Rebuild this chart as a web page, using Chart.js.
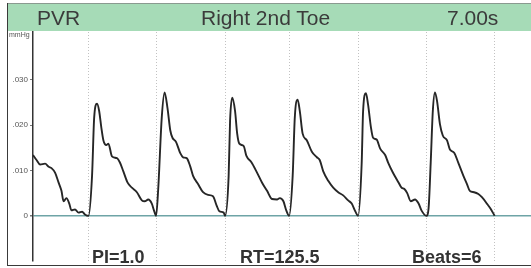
<!DOCTYPE html>
<html>
<head>
<meta charset="utf-8">
<script src="https://cdn.jsdelivr.net/npm/chart.js@4/dist/chart.umd.min.js"></script>
<style>
  html, body { margin: 0; padding: 0; background: #fff; }
  #wrap { position: relative; width: 531px; height: 268px; overflow: hidden; background: #fff; font-family: "Liberation Sans", Arial, sans-serif; }
  #c { position: absolute; left: 0; top: 0; }
  #frame { position: absolute; left: 7px; top: 3px; width: 524px; height: 263px; border-left: 1.5px solid #3a3a3a; border-bottom: 1.5px solid #3a3a3a; box-sizing: border-box; pointer-events: none; }
  #header { position: absolute; left: 8px; top: 3px; width: 523px; height: 28px; background: #a6dbb7; border-top: 1px solid #8a9a90; box-sizing: border-box; }
  .h { position: absolute; top: 7px; font-size: 21px; line-height: 21px; color: #3b3b3b; white-space: nowrap; }
  .b { position: absolute; top: 247.5px; font-size: 18px; line-height: 18px; font-weight: bold; color: #333; white-space: nowrap; }
  #unit { position: absolute; left: 9px; top: 31px; font-size: 7px; line-height: 8px; color: #555; }
</style>
</head>
<body>
<div id="wrap">
  <canvas id="c" width="531" height="268"></canvas>
  <div id="header"></div>
  <div id="frame"></div>
  <div class="h" id="t1" style="left:37px">PVR</div>
  <div class="h" id="t2" style="left:201px">Right 2nd Toe</div>
  <div class="h" id="t3" style="left:447px">7.00s</div>
  <div id="unit">mmHg</div>
  <div class="b" style="left:92px">PI=1.0</div>
  <div class="b" style="left:240px">RT=125.5</div>
  <div class="b" style="left:412px">Beats=6</div>
</div>
<script>
// Time (s) of each traced sample
const timeSec = [
  0.00,0.05,0.10,0.17,0.22,0.26,0.31,0.36,0.40,0.43,0.47,0.51,0.54,0.59,0.64,0.69,0.73,
  0.78,0.83,0.86,0.90,0.93,0.96,0.99,1.03,1.06,1.11,1.18,1.22,1.27,1.33,1.39,1.46,1.53,1.57,1.62,1.67,1.70,
  1.73,1.76,1.81,1.85,1.89,1.93,1.96,2.01,2.07,2.11,2.16,2.21,2.25,2.32,2.39,2.46,2.53,2.58,2.62,2.68,
  2.70,2.75,2.77,2.80,2.84,2.87,2.90,2.96,3.00,3.07,3.14,3.22,3.29,3.36,3.43,3.47,3.52,3.56,
  3.60,3.65,3.68,3.72,3.75,3.79,3.85,3.92,3.99,4.03,4.08,4.15,4.22,4.29,4.36,4.43,4.48,4.53,
  4.57,4.62,4.64,4.68,4.71,4.75,4.78,4.83,4.88,4.95,4.99,5.06,5.14,5.18,5.22,5.26,5.31,5.37,5.42,5.46,
  5.53,5.56,5.59,5.62,5.65,5.68,5.72,5.76,5.82,5.86,5.92,5.98,6.05,6.10,6.14,6.20,6.26,6.31,6.38,6.43,6.49
];
// Pulse volume (mmHg) at each sample
const pressure = [
  0.0134,0.0123,0.0113,0.0115,0.0108,0.0105,0.0095,0.0073,0.0055,0.0032,0.0039,0.0027,0.0012,0.0014,0.0007,0.0009,0.0003,
  0.0000,0.0088,0.0217,0.0247,0.0231,0.0195,0.0166,0.0156,0.0159,0.0131,0.0127,0.0118,0.0098,0.0073,0.0062,0.0052,0.0034,0.0032,0.0036,0.0027,0.0012,
  0.0000,0.0059,0.0217,0.0272,0.0238,0.0188,0.0172,0.0163,0.0138,0.0129,0.0127,0.0109,0.0088,0.0070,0.0052,0.0046,0.0043,0.0023,0.0010,0.0007,
  0.0000,0.0088,0.0209,0.0260,0.0231,0.0181,0.0159,0.0154,0.0132,0.0118,0.0098,0.0073,0.0055,0.0037,0.0036,0.0039,0.0032,0.0012,
  0.0000,0.0088,0.0217,0.0256,0.0231,0.0181,0.0166,0.0141,0.0129,0.0123,0.0098,0.0077,0.0062,0.0052,0.0045,0.0034,0.0027,0.0010,
  0.0000,0.0116,0.0231,0.0270,0.0245,0.0195,0.0172,0.0168,0.0148,0.0134,0.0118,0.0095,0.0073,0.0062,0.0059,0.0050,0.0032,0.0036,0.0027,0.0012,
  0.0000,0.0016,0.0116,0.0231,0.0272,0.0252,0.0202,0.0177,0.0166,0.0146,0.0139,0.0116,0.0088,0.0070,0.0055,0.0052,0.0048,0.0041,0.0027,0.0016,0.0000
];
// Beat onset markers (s) – vertical guide lines
const beatOnsets = [0.78, 1.73, 2.70, 3.60, 4.57, 5.53, 6.49];
// Y-axis tick values (mmHg)
const yTickValues = [0, 0.010, 0.020, 0.030];
const sweepSeconds = 7.00;

const points = timeSec.map((t, i) => ({ x: t, y: pressure[i] }));
const baselineTeal = '#6ea4a6';

new Chart(document.getElementById('c'), {
  type: 'line',
  data: {
    datasets: [{
      data: points,
      borderColor: '#262626',
      borderWidth: 1.9,
      pointRadius: 0,
      fill: false,
      cubicInterpolationMode: 'monotone'
    }]
  },
  options: {
    responsive: false,
    animation: false,
    devicePixelRatio: 1,
    layout: { padding: { top: 32, bottom: 1, left: 0, right: 0 } },
    plugins: { legend: { display: false }, tooltip: { enabled: false }, title: { display: false } },
    scales: {
      x: {
        type: 'linear',
        min: 0,
        max: sweepSeconds,
        afterBuildTicks: s => { s.ticks = beatOnsets.map(v => ({ value: v })); },
        afterFit: s => { s.height = 0; },
        ticks: { display: false },
        border: { display: false, dash: [1, 2] },
        grid: { color: '#c2c2c2', lineWidth: 1, drawTicks: false }
      },
      y: {
        min: -0.0100,
        max: 0.0405,
        afterBuildTicks: s => { s.ticks = yTickValues.map(v => ({ value: v })); },
        afterFit: s => { s.width = 33; },
        border: { display: true, color: '#333', width: 1.5 },
        grid: {
          color: c => (c.tick && c.tick.value === 0) ? baselineTeal : 'rgba(0,0,0,0)',
          lineWidth: c => (c.tick && c.tick.value === 0) ? 1.5 : 1,
          tickColor: '#777',
          tickLength: 3
        },
        ticks: {
          padding: 2,
          color: '#555',
          font: { family: 'Liberation Sans', size: 8 },
          callback: v => v === 0 ? '0' : '.' + String(Math.round(v * 1000)).padStart(3, '0')
        }
      }
    }
  }
});
</script>
</body>
</html>
